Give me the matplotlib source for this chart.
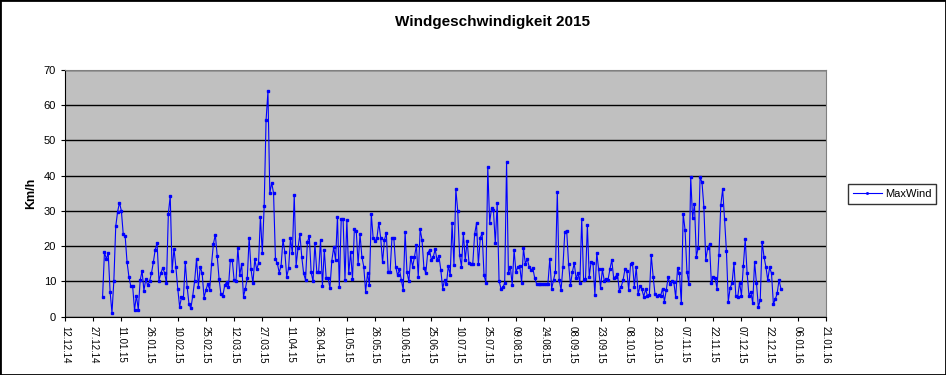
import numpy as np
import pandas as pd
import matplotlib
matplotlib.use("Agg")
import matplotlib.pyplot as plt
import matplotlib.dates as mdates
from matplotlib.patches import Rectangle

plt.rcParams['font.family'] = ['Liberation Sans', 'DejaVu Sans']

# Tageswerte MaxWind (km/h), 01.01.2015 fortlaufend
jan_feb = [5.7, 18.3, 16.4, 18, 7.1, 1.1, 10.2, 25.6, 29.8, 32.4, 30, 23.4, 23, 15.6, 11.4,
           8.7, 8.7, 1.9, 6, 2, 10.3, 13, 7.4, 10.7, 8.9, 10, 12.3, 15.4, 19, 20.8, 10.2,
           12.3, 13.8, 12.5, 9.5, 29.2, 34.3, 13, 19.3, 14.2, 8, 2.8, 5.5, 5.2]
feb_mar = [15.4, 8.5, 3.5, 2.4, 6, 10.2, 16.4, 8.5, 14.2, 12.3, 5.4, 7.6, 9.3, 7.6, 15,
           20.7, 23.3, 17.3, 10.7, 6.3, 6, 8.9, 9.8, 8.5, 16.1, 16.1, 10.4, 10, 19.6, 11.8,
           15, 5.7, 8, 10.9, 22.4, 13.5, 9.5, 16.3, 13.4, 15.2, 28.4, 18, 31.5, 55.7, 63.9]
apr_mai = [35, 38, 35, 16.3, 15.2, 12.5, 14.5, 21.8, 18.3, 11.4, 13.7, 22.3, 18, 34.6, 14.5,
           19.4, 23.4, 17, 12.3, 10.4, 21.1, 22.9, 12.6, 10, 20.8, 12.8, 12.8, 21.8, 8.7,
           18.9, 10.9, 10.9, 8.2, 15.9, 19.7, 16.1, 28.4, 8.5, 27.7, 27.7, 10.4, 27.5, 12.3,
           18.3, 10.7]
mai_jun = [24.8, 24.4, 14.9, 23.4, 17, 14.2, 7.1, 12.3, 9, 29.2, 22.3, 21.5, 22.3, 26.7,
           22.4, 15.4, 21.8, 23.7, 12.6, 12.6, 22.3, 22.4, 14.2, 11.7, 13.4, 10.4, 7.6, 24.1,
           12.7, 10, 17, 14.2, 17, 20.3, 11.4, 24.8, 21.8, 13.9, 12.3, 18, 18.9, 16.1, 17]
jun_aug = [19.1, 16.1, 17.2, 13.3, 8, 10.4, 9.3, 14.4, 11.8, 26.5, 14.7, 36.2, 30.1, 17.5,
           14.2, 23.7, 16.1, 21.5, 15.3, 15, 14.9, 23.4, 26.5, 14.9, 22.4, 23.7, 11.8, 9.7,
           42.4, 26.7, 30.8, 30.3, 20.8, 32.2, 10.2, 8, 8.3, 9.5, 43.8, 12.3, 14.2, 9, 18.9,
           12.6, 14.2, 14.4, 9.7]
aug_sep = [19.4, 15, 16.4, 14.2, 13.3, 13.7, 10.9, 9.3, 9.3, 9.3, 9.3, 9.3, 9.3, 9.3, 16.4,
           8, 10.4, 12.8, 35.5, 10.4, 7.6, 14.2, 24.1, 24.4, 15, 9, 12.6, 15.2, 10.9, 12.3,
           9.7, 27.8, 10.4, 10.6, 25.9, 11.4, 15.6, 15.2, 6.2, 18.2, 13.4, 8.2, 13.4, 10.2,
           10.6, 10.4]
okt_nov = [13.5, 16.1, 10.9, 11.4, 12.1, 7.4, 8.5, 10.4, 13.4, 13, 7.6, 15, 15.2, 8.5, 14,
           6.4, 8.7, 7.8, 5.7, 7.8, 5.9, 6.2, 17.4, 11.4, 6.4, 5.9, 6.2, 5.9, 8, 4.3, 7.6,
           11.2, 9.2, 10.2, 9.9, 5.5, 13.7, 12.3, 3.8, 29.2, 24.6, 12.8, 9.3]
nov_dez = [39.6, 27.9, 31.9, 17, 19.6, 39.6, 38.1, 31.2, 16.1, 19.4, 20.5, 9.5, 11.2, 11,
           8, 17.5, 31.6, 36.2, 27.8, 18.7, 4.3, 8.2, 9.5, 15.2, 6, 5.5, 9.7, 6, 14.4, 22,
           12.5, 6, 7.1, 3.8, 15.6, 9.5, 2.8, 4.7, 21.3, 17, 14.2, 10.4, 14, 12.3, 3.6, 4.9,
           6.6, 10.4, 8]

max_wind = jan_feb + feb_mar + apr_mai + mai_jun + jun_aug + aug_sep + okt_nov + nov_dez
tage = pd.date_range('2015-01-01', periods=len(max_wind), freq='D')

fig = plt.figure(figsize=(9.46, 3.75), dpi=100)
ax = fig.add_axes([65/946, 1 - 316.7/375, (826 - 65)/946, (316.7 - 70)/375])
ax.set_facecolor('#C0C0C0')

ax.plot(tage, max_wind, color='#0000FF', lw=0.8, marker='s', ms=1.6, label='MaxWind')

ax.set_ylim(0, 70)
ax.set_yticks(np.arange(0, 71, 10))
ax.yaxis.grid(True, color='black', lw=1)
ax.set_axisbelow(True)

start = pd.Timestamp('2014-12-12')
ende = pd.Timestamp('2016-01-21')
ax.set_xlim(start, ende)
ax.set_xticks(pd.date_range(start, ende, freq='15D'))
ax.xaxis.set_major_formatter(mdates.DateFormatter('%d.%m.%y'))
plt.setp(ax.get_xticklabels(), rotation=-90, fontsize=7)
ax.tick_params(axis='y', labelsize=8)
ax.tick_params(axis='both', direction='out', length=3, color='black')

for s in ['top', 'right']:
    ax.spines[s].set_color('#808080')
for s in ['left', 'bottom']:
    ax.spines[s].set_color('black')

ax.set_ylabel('Km/h', fontsize=9, fontweight='bold', labelpad=5)
fig.text(492/946, 1 - 22/375, 'Windgeschwindigkeit 2015', ha='center', va='center',
         fontsize=11, fontweight='bold')

leg = fig.legend(loc='center', bbox_to_anchor=(892/946, 1 - 194/375), fontsize=8,
                 frameon=True, fancybox=False, edgecolor='black', borderpad=0.45,
                 handlelength=2.6, handletextpad=0.3, markerscale=0.6)
leg.get_frame().set_linewidth(1)

fig.patches.append(Rectangle((0, 0), 1, 1, transform=fig.transFigure, fill=False,
                             edgecolor='black', lw=2))

fig.savefig('out.png', dpi=100)
